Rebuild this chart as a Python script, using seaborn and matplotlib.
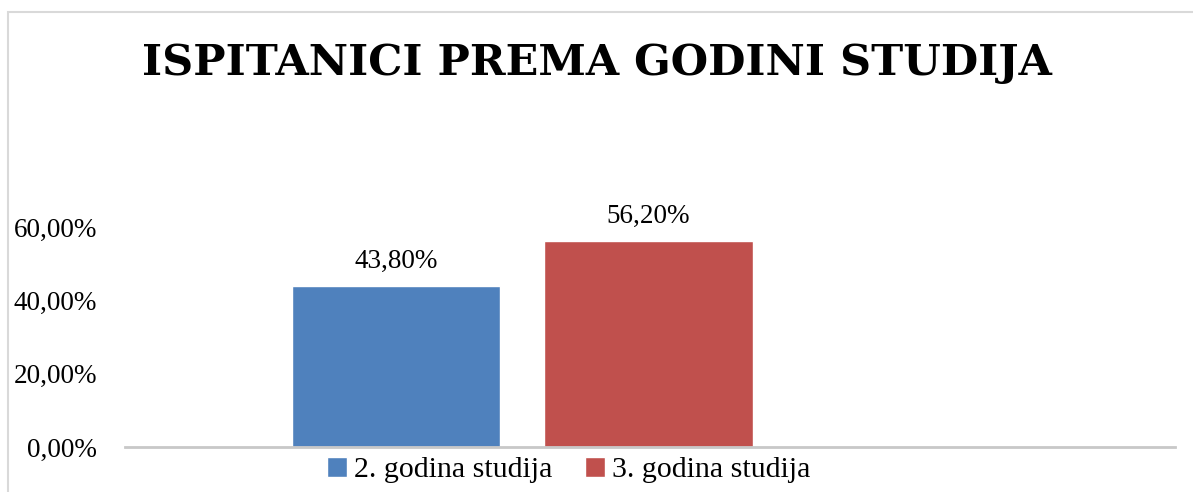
import numpy as np
import pandas as pd
import seaborn as sns
import matplotlib.pyplot as plt
from matplotlib.patches import Rectangle

sns.set_style('white')
plt.rcParams['text.color'] = 'black'
plt.rcParams['ytick.color'] = 'black'

godine = ["2. godina studija", "3. godina studija"]
udio = [0.438, 0.562]
boje = ["#4F81BD", "#C0504D"]
y_ticks = [0.0, 0.2, 0.4, 0.6]

df = pd.DataFrame({"godina": godine, "udio": udio})

W, H = 1193, 492
fig = plt.figure(figsize=(W / 100, H / 100), dpi=100)
ax = fig.add_axes([125 / W, 45 / H, 1050 / W, 220 / H])

sns.barplot(data=df, x="godina", y="udio", hue="godina", palette=boje,
            width=0.824, legend=False, ax=ax, saturation=1)

ax.set_xlim(-1.073, 3.085)
ax.set_ylim(0, 0.6)
ax.set_yticks(y_ticks)
ax.set_yticklabels([f"{v*100:.2f}%".replace(".", ",") for v in y_ticks],
                   family="Liberation Serif", fontsize=19.5, color="black")
ax.tick_params(axis='y', length=0, pad=20)
ax.set_xticks([])
ax.set_xlabel("")
ax.set_ylabel("")
for s in ["top", "right", "left"]:
    ax.spines[s].set_visible(False)
ax.spines["bottom"].set_color("#c8c8c8")
ax.spines["bottom"].set_linewidth(2)

for cont in ax.containers:
    ax.bar_label(cont, labels=[f"{v*100:.2f}%".replace(".", ",") for v in cont.datavalues],
                 padding=9, family="Liberation Serif", fontsize=19.5, color="black",
                 clip_on=False)

fig.text(0.5, 1 - 63 / H, "ISPITANICI PREMA GODINI STUDIJA", ha="center", va="center",
         family="DejaVu Serif", fontweight="bold", fontsize=31, color="black")

fig.patches.append(Rectangle((8 / W, -0.1), 1.2, 1 - 12 / H + 0.1, transform=fig.transFigure,
                             fill=False, edgecolor="#d9d9d9", linewidth=1.5))

handles = ax.patches[:2]
fig.legend(handles=handles, labels=godine, loc="center", bbox_to_anchor=(569 / W, 1 - 470 / H),
           ncol=2, frameon=False, handlelength=0.65, handleheight=0.65, handletextpad=0.25,
           columnspacing=1.1, prop={"family": "Liberation Serif", "size": 21.5})

fig.savefig("out.png", dpi=100)
